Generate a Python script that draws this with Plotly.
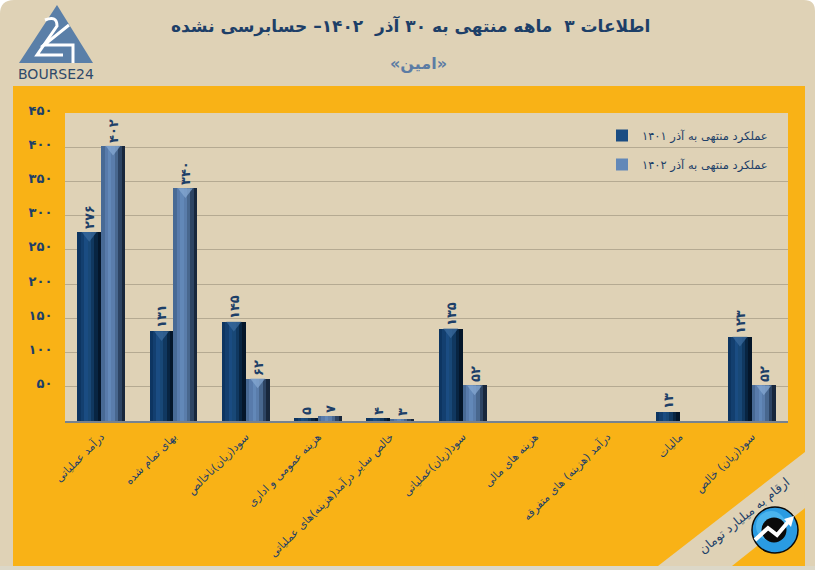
import plotly.graph_objects as go

categories = ["درآمد عملیاتی", "بهای تمام شده", "سود(زیان)ناخالص", "هزینه عمومی و اداری",
              "خالص سایر درآمد(هزینه)های عملیاتی", "سود(زیان)عملیاتی", "هزینه های مالی",
              "درآمد (هزینه) های متفرقه", "مالیات", "سود(زیان) خالص"]
series_1401 = [276, 131, 145, 5, 4, 135, 0, 0, 13, 123]
series_1402 = [402, 340, 62, 7, 3, 52, 0, 0, 0, 52]
name_1401 = "عملکرد منتهی به آذر ۱۴۰۱"
name_1402 = "عملکرد منتهی به آذر ۱۴۰۲"
y_ticks = [50, 100, 150, 200, 250, 300, 350, 400, 450]
title_text = "اطلاعات ۳  ماهه منتهی به ۳۰ آذر  ۱۴۰۲– حسابرسی نشده"
subtitle_text = "«امین»"
unit_text = "ارقام به میلیارد تومان"
logo_text = "BOURSE24"

W, H = 815, 570
L, R, T, B = 65, 788, 113, 421
FONT = "DejaVu Sans"
NAVY = "#1d3f68"
BG = "#dfd2b6"
ORANGE = "#f9b216"

ramp_1401 = ["#0d3561", "#133f6f", "#1a4c82", "#184877", "#103860", "#082542", "#04162a"]
ramp_1402 = ["#486a95", "#587bab", "#6288b8", "#5a7dab", "#48678e", "#2d4463", "#18273c"]

DIGITS = str.maketrans("0123456789", "۰۱۲۳۴۵۶۷۸۹")
def fa(v):
    return str(v).translate(DIGITS)

def px(x):
    return (x - L) / (R - L)
def py(y):
    return (B - y) / (B - T)
def poly(points, close=True):
    d = "M " + " L ".join(f"{px(x):.5f} {py(y):.5f}" for x, y in points)
    return d + (" Z" if close else "")

x_idx = list(range(len(categories)))
BAR_W = 0.33
fig = go.Figure()

def add_series(values, ramp, start, name, cap):
    n = len(ramp)
    w = BAR_W / n
    for i, col in enumerate(ramp):
        fig.add_trace(go.Bar(
            x=x_idx, y=values, width=BAR_W - i * w, offset=start + i * w,
            marker=dict(color=col, line=dict(width=0)),
            name=name, legendgroup=name, showlegend=(i == 2), hoverinfo="skip"))
    fig.add_trace(go.Scatter(
        x=[k + start + BAR_W / 2 for k, v in zip(x_idx, values) if v >= 30],
        y=[v - 4.7 for v in values if v >= 30],
        mode="markers", showlegend=False, hoverinfo="skip",
        marker=dict(symbol="triangle-down", size=13, color=cap, opacity=0.75, line=dict(width=0))))
    fig.add_trace(go.Bar(
        x=x_idx, y=values, width=BAR_W, offset=start,
        marker=dict(color="rgba(0,0,0,0)", line=dict(width=0)),
        text=[fa(v) if v else "" for v in values], textposition="outside", textangle=-90,
        constraintext="none", cliponaxis=False,
        textfont=dict(family=FONT, size=13, color=NAVY, weight="bold"),
        showlegend=False, hoverinfo="skip"))

add_series(series_1401, ramp_1401, -BAR_W, name_1401, "#3a6a9c")
add_series(series_1402, ramp_1402, 0.0, name_1402, "#86a8d2")

shapes = []
def rect(x0, y0, x1, y1, col):
    shapes.append(dict(type="rect", xref="paper", yref="paper", layer="below",
                       x0=px(x0), x1=px(x1), y0=py(y0), y1=py(y1),
                       fillcolor=col, line=dict(width=0)))
def path(d, col, layer="below", line=None):
    shapes.append(dict(type="path", xref="paper", yref="paper", layer=layer, path=d,
                       fillcolor=col, line=line or dict(width=0)))
def circle(cx, cy, r, col, line=None, layer="above"):
    shapes.append(dict(type="circle", xref="paper", yref="paper", layer=layer,
                       x0=px(cx - r), x1=px(cx + r), y0=py(cy + r), y1=py(cy - r),
                       fillcolor=col, line=line or dict(width=0)))

# page and panel
rect(0, 0, W, H, BG)
rect(0, 566, W, H, "#dcd8c8")
rect(13, 86, 805, 566, ORANGE)
rect(L, T, R, B, BG)
path(poly([(805, 452), (658, 566), (732, 566), (805, 508)]), BG)
# rounded corners of the page
path(f"M {px(0)} {py(0)} L {px(14)} {py(0)} Q {px(0)} {py(0)} {px(0)} {py(14)} Z", "#ffffff")
path(f"M {px(W)} {py(0)} L {px(W-11)} {py(0)} Q {px(W)} {py(0)} {px(W)} {py(11)} Z", "#ffffff")

# logo
path(poly([(57, 5), (19, 63), (93, 63)]), "#5a7fa8")
white = dict(color="#ffffff", width=3)
shapes.append(dict(type="path", xref="paper", yref="paper", layer="below",
                   path=f"M {px(45)} {py(20)} Q {px(57)} {py(15)} {px(57)} {py(26)} L {px(37)} {py(55)} L {px(63)} {py(55)}",
                   line=white))
shapes.append(dict(type="path", xref="paper", yref="paper", layer="below",
                   path=poly([(69, 25), (44, 45), (73, 45), (73, 63)], close=False), line=white))

# round badge
circle(775, 530, 23, "#2a9be2", dict(color="#0a0a0a", width=1.5))
circle(771, 526, 15, "#4ab4ee")
circle(774, 530, 12.5, "#0a0a0a")
shapes.append(dict(type="path", xref="paper", yref="paper", layer="above",
                   path=poly([(755, 540), (768, 528), (777, 535), (788, 522)], close=False),
                   line=dict(color="#ffffff", width=4)))
path(poly([(794, 516), (784, 519), (791, 527)]), "#ffffff", layer="above")

annotations = [
    dict(text=title_text, x=px(410), y=py(26), font=dict(family=FONT, size=17, color=NAVY, weight="bold")),
    dict(text=subtitle_text, x=px(418), y=py(64), font=dict(family=FONT, size=16, color="#5c7ca4", weight="bold")),
    dict(text=unit_text, x=px(744), y=py(516), textangle=-39, font=dict(family=FONT, size=12.5, color=NAVY)),
    dict(text=logo_text, x=px(56), y=py(74), font=dict(family=FONT, size=14, color="#2f4a6a")),
]
for a in annotations:
    a.update(xref="paper", yref="paper", showarrow=False, xanchor="center", yanchor="middle")

fig.update_layout(
    width=W, height=H, autosize=False,
    margin=dict(l=L, r=W - R, t=T, b=H - B, pad=0),
    paper_bgcolor=BG, plot_bgcolor="rgba(0,0,0,0)",
    barmode="overlay", bargap=0,
    shapes=shapes, annotations=annotations,
    font=dict(family=FONT, color=NAVY),
    legend=dict(x=px(602), y=py(121), xanchor="left", yanchor="top", bgcolor="rgba(0,0,0,0)",
                font=dict(family=FONT, size=11.5, color=NAVY), tracegroupgap=10, traceorder="grouped",
                itemwidth=30),
    xaxis=dict(range=[-0.5, 9.5], tickmode="array", tickvals=x_idx, ticktext=categories,
               tickangle=-45, tickfont=dict(family=FONT, size=11, color=NAVY),
               showgrid=False, zeroline=False, showline=True, linecolor="#76828f", linewidth=2,
               ticks="outside", ticklen=3, tickcolor="rgba(0,0,0,0)", automargin=False),
    yaxis=dict(range=[0, 450], tickmode="array", tickvals=y_ticks, ticktext=[fa(v) for v in y_ticks],
               tickfont=dict(family=FONT, size=13, color=NAVY, weight="bold"),
               showgrid=True, gridcolor="#b5aa92", gridwidth=1, zeroline=False, showline=False,
               ticks="outside", ticklen=9, tickcolor="rgba(0,0,0,0)", automargin=False,
               ticklabelshift=-3),
)

fig.write_html("out.html", config=dict(displayModeBar=False),
               post_script="document.body.style.margin='0';")
